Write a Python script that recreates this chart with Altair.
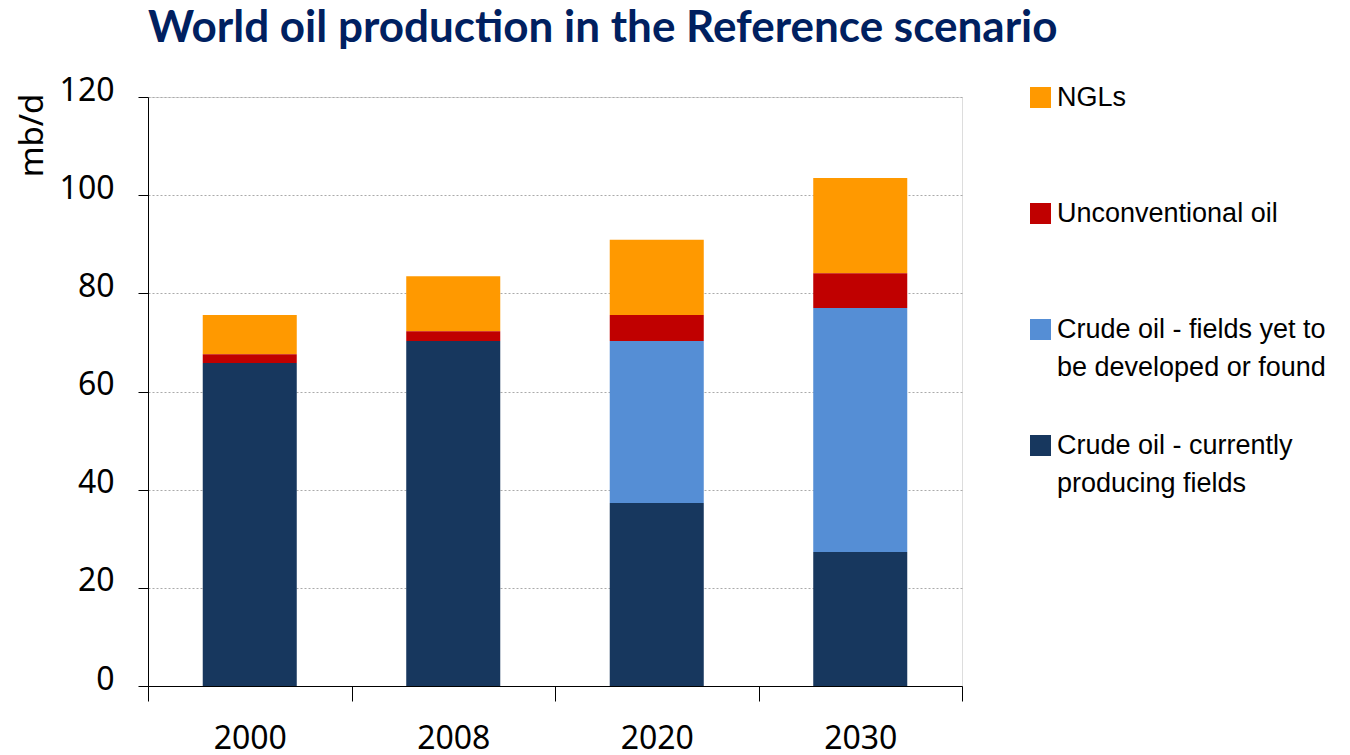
import altair as alt
import pandas as pd

years = ["2000", "2008", "2020", "2030"]
series = [
    "NGLs",
    "Unconventional oil",
    "Crude oil - fields yet to be developed or found",
    "Crude oil - currently producing fields",
]
legend_lines = [
    ["NGLs", ""],
    ["Unconventional oil", ""],
    ["Crude oil - fields yet to", "be developed or found"],
    ["Crude oil - currently", "producing fields"],
]
colors = ["#FF9900", "#C00000", "#558ED5", "#17375E"]
stack_rank = [3, 2, 1, 0]

ngls = [8.0, 11.2, 15.3, 19.4]
unconventional = [1.8, 2.0, 5.3, 7.1]
crude_new = [0.0, 0.0, 33.0, 49.7]
crude_current = [65.8, 70.3, 37.3, 27.3]
values = [ngls, unconventional, crude_new, crude_current]

y_ticks = [0, 20, 40, 60, 80, 100, 120]

rows = []
for s, rank, vals in zip(series, stack_rank, values):
    for yr, v in zip(years, vals):
        rows.append({"year": yr, "series": s, "rank": rank, "value": v})
df = pd.DataFrame(rows)

expr = "datum.label"
for s, lines in reversed(list(zip(series, legend_lines))):
    arr = "[" + ", ".join("'" + l + "'" for l in lines) + "]"
    expr = f"datum.label == '{s}' ? {arr} : ({expr})"

chart = alt.Chart(df).mark_bar(width=alt.RelativeBandSize(0.462)).encode(
    x=alt.X(
        "year:N",
        sort=years,
        scale=alt.Scale(paddingInner=0, paddingOuter=0),
        axis=alt.Axis(
            title=None,
            labelAngle=0,
            tickBand="extent",
            tickSize=15,
            tickColor="black",
            domainColor="black",
            labelFont="Noto Sans",
            labelFontSize=32,
            labelColor="black",
            labelPadding=22,
            grid=False,
        ),
    ),
    y=alt.Y(
        "value:Q",
        stack="zero",
        scale=alt.Scale(domain=[0, 120], nice=False),
        axis=alt.Axis(
            values=y_ticks,
            title="mb/d",
            titleFont="Noto Sans",
            titleFontSize=33,
            titleFontWeight="normal",
            titleColor="black",
            titleAngle=270,
            titleX=-116,
            titleY=38,
            titleAlign="center",
            titleBaseline="middle",
            labelFont="Noto Sans",
            labelFontSize=32,
            labelColor="black",
            labelPadding=24,
            labelBaseline="alphabetic",
            labelOffset=3,
            tickSize=10,
            tickColor="black",
            domainColor="black",
            grid=True,
            gridColor="#AAAAAA",
            gridDash=[2, 2],
            gridWidth=1,
        ),
    ),
    color=alt.Color(
        "series:N",
        scale=alt.Scale(domain=series, range=colors),
        legend=alt.Legend(
            title=None,
            orient="none",
            legendX=879,
            legendY=-13,
            padding=0,
            symbolType="square",
            symbolSize=441,
            symbolStrokeWidth=0,
            labelFont="Liberation Sans",
            labelFontSize=27,
            labelColor="black",
            labelOffset=3,
            labelLimit=500,
            rowPadding=50,
            labelExpr=expr,
        ),
    ),
    order=alt.Order("rank:Q"),
).properties(
    width=814,
    height=589,
    title=alt.TitleParams(
        "World oil production in the Reference scenario",
        anchor="start",
        frame="group",
        font="Lato",
        fontSize=44,
        fontWeight="bold",
        color="#002060",
        offset=23,
    ),
    autosize=alt.AutoSizeParams(type="none"),
    padding={"left": 148, "top": 97, "right": 388, "bottom": 69},
).configure_view(stroke=None).configure(
    style={"guide-label": {"lineHeight": 38}}
)

chart.save("out.html", embed_options={"renderer": "svg", "actions": False})
